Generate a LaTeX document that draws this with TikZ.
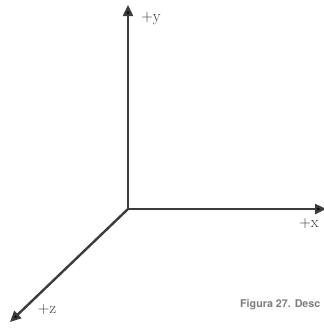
\documentclass[tikz,border=0pt]{standalone}
\usepackage{fontspec}
\newfontfamily\capfont{TeX Gyre Heros}
\usepackage{tikz}
\usetikzlibrary{arrows.meta, positioning}
\definecolor{axisgray}{RGB}{60, 60, 60}
\definecolor{capgray}{RGB}{125, 125, 125}

\begin{document}
\begin{tikzpicture}[
  x=1pt, y=-1pt,
  axis/.style={axisgray, line width=2.4pt, -{Triangle[length=11pt, width=10pt, fill=black]}},
  lbl/.style={font=\fontsize{16}{16}\selectfont, inner sep=0pt, text=black!80}
]
  \useasboundingbox (0,0) rectangle (324,330);
  \coordinate (O) at (128, 209);
  \coordinate (Ytip) at (128, 5);
  \coordinate (Xtip) at (326, 209);
  \coordinate (Ztip) at (10, 322);

  \draw[axis] (O) -- (Ytip);
  \draw[axis] (O) -- (Xtip);
  \draw[axis] (O) -- (Ztip);

  \node[lbl] (ly) at (151, 19) {+y};
  \node[lbl] (lx) at (309, 224) {+x};
  \node[lbl] (lz) at (47, 310) {+z};

  \node[anchor=west, inner sep=0pt, text=capgray, font=\capfont\bfseries\fontsize{10.7}{10.7}\selectfont] (cap) at (240, 305) {Figura 27. Desc};
\end{tikzpicture}
\end{document}
